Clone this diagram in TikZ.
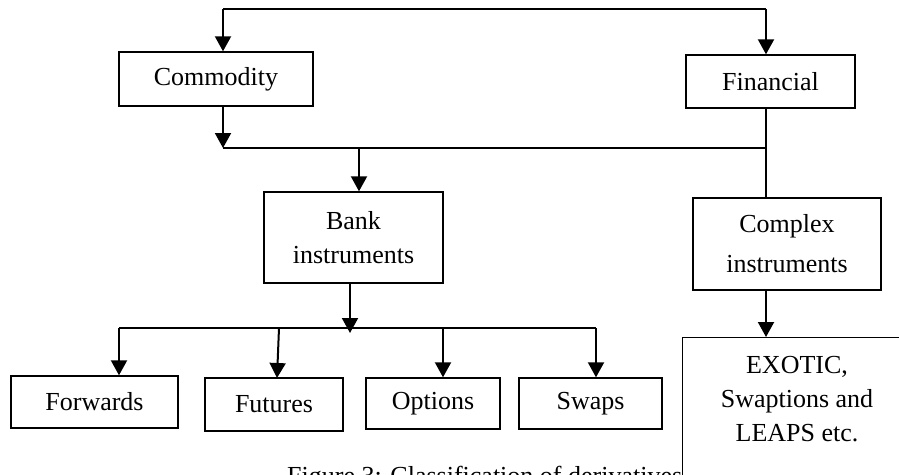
\documentclass[tikz,border=0pt]{standalone}
\usepackage{fontspec}
\setmainfont{Liberation Serif}
\usetikzlibrary{arrows.meta}
\begin{document}
\begin{tikzpicture}[x=1pt,y=-1pt,
  box/.style={draw, line width=1.4pt, inner sep=0pt, align=center, fill=white,
    font=\fontsize{26}{34}\selectfont},
  conn/.style={line width=2pt},
  arr/.style={line width=2pt, -{Triangle[length=15pt,width=16pt]}},
  thinconn/.style={line width=1.2pt}]
\useasboundingbox (0,0) rectangle (899,474);
% caption (partly hidden)
\node[anchor=base west, inner sep=0pt, font=\fontsize{26}{32}\selectfont] (cap) at (287,484) {Figure 3: Classification of derivatives};
% boxes
\node[box, minimum width=194pt, minimum height=54pt] (com) at (216,79) {Commodity};
\node[box, minimum width=169pt, minimum height=53pt] (fin) at (770.5,81.5) {Financial};
\node[box, minimum width=179pt, minimum height=91pt] (bank) at (353.5,237.5) {Bank\\instruments};
\node[box, minimum width=188pt, minimum height=92pt, font=\fontsize{26}{40}\selectfont] (cpx) at (787,244) {Complex\\instruments};
\node[box, minimum width=167pt, minimum height=52pt] (fwd) at (94.5,402) {Forwards};
\node[box, minimum width=138pt, minimum height=53pt] (fut) at (274,404.5) {Futures};
\node[box, minimum width=134pt, minimum height=51pt] (opt) at (433,403.5) {Options};
\node[box, minimum width=143pt, minimum height=51pt] (swp) at (590.5,403.5) {Swaps};
\node[box, minimum width=240pt, minimum height=200pt, anchor=north west] (exo) at (682,337) {};
\node[align=center, inner sep=0pt, font=\fontsize{26}{34}\selectfont] (exotxt) at (797,399) {EXOTIC,\\Swaptions and\\LEAPS etc.};
% top connectors
\coordinate (t1) at (223,9);
\coordinate (t2) at (766,9);
\draw[conn] (t1) -- (t2);
\draw[arr] (t1) -- (t1 |- com.north);
\draw[arr] (t2) -- (t2 |- fin.north);
% middle
\coordinate (m1) at (223,148);
\coordinate (m2) at (766,148);
\coordinate (mb) at (359,148);
\draw[arr] (m1 |- com.south) -- (m1);
\draw[conn] (m1) -- (m2);
\draw[thinconn] (m2 |- fin.south) -- (m2 |- cpx.north);
\draw[arr] (mb) -- (mb |- bank.north);
% bank to leaves
\coordinate (bb) at (350,333);
\draw[arr] (bb |- bank.south) -- (bb);
\coordinate (l1) at (119,328);
\coordinate (l2) at (279,328);
\coordinate (l2b) at (277,378);
\coordinate (l3) at (443,328);
\coordinate (l4) at (596,328);
\draw[conn] (l1) -- (l4);
\draw[arr] (l1) -- (l1 |- fwd.north);
\draw[arr] (l2) -- (l2b);
\draw[arr] (l3) -- (l3 |- opt.north);
\draw[arr] (l4) -- (l4 |- swp.north);
% complex to exotic
\coordinate (ce) at (766,337);
\draw[arr] (ce |- cpx.south) -- (ce);
\end{tikzpicture}
\end{document}
